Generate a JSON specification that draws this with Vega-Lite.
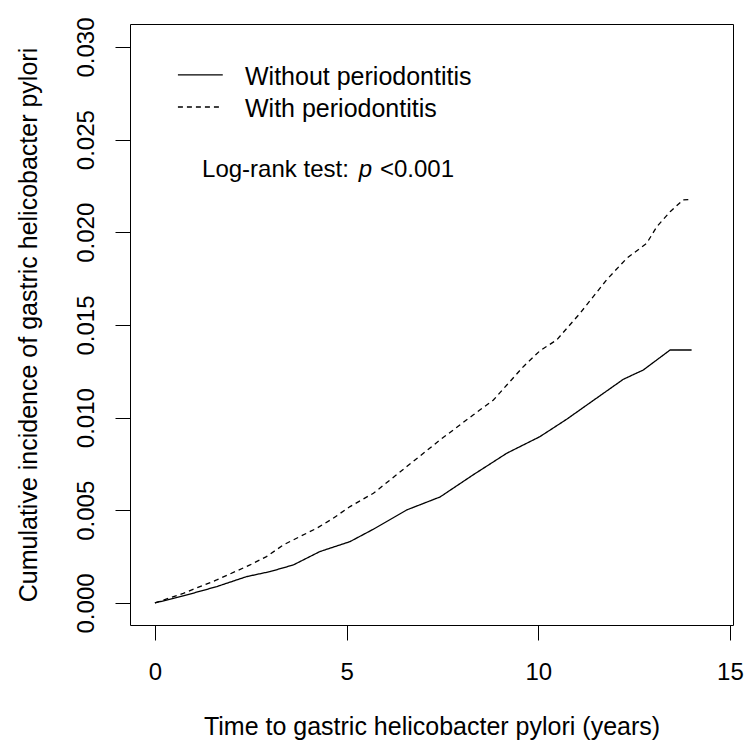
{
  "$schema": "https://vega.github.io/schema/vega-lite/v6.json",
  "autosize": {"type": "none"},
  "width": 603,
  "height": 601,
  "padding": {"left": 130, "top": 24, "right": 13, "bottom": 117},
  "background": "white",
  "config": {
    "view": {"stroke": "black", "strokeWidth": 1},
    "font": "Liberation Sans",
    "axis": {
      "domain": false, "grid": false,
      "tickColor": "black", "tickSize": 15, "tickWidth": 1,
      "labelFont": "Liberation Sans", "labelFontSize": 24, "labelColor": "black",
      "titleFont": "Liberation Sans", "titleFontSize": 25, "titleFontWeight": "normal", "titleColor": "black"
    }
  },
  "datasets": {
    "km": [
      {"group": "Without periodontitis", "t": 0, "v": 0},
      {"group": "Without periodontitis", "t": 0.74, "v": 0.00038},
      {"group": "Without periodontitis", "t": 1.61, "v": 0.00088},
      {"group": "Without periodontitis", "t": 2.39, "v": 0.00142},
      {"group": "Without periodontitis", "t": 3.0, "v": 0.00169},
      {"group": "Without periodontitis", "t": 3.61, "v": 0.00205},
      {"group": "Without periodontitis", "t": 4.3, "v": 0.00277},
      {"group": "Without periodontitis", "t": 5.09, "v": 0.00331},
      {"group": "Without periodontitis", "t": 5.7, "v": 0.00398},
      {"group": "Without periodontitis", "t": 6.57, "v": 0.00502},
      {"group": "Without periodontitis", "t": 7.44, "v": 0.00572},
      {"group": "Without periodontitis", "t": 8.3, "v": 0.00691},
      {"group": "Without periodontitis", "t": 9.18, "v": 0.00808},
      {"group": "Without periodontitis", "t": 10.04, "v": 0.00897},
      {"group": "Without periodontitis", "t": 10.74, "v": 0.00991},
      {"group": "Without periodontitis", "t": 11.52, "v": 0.01105},
      {"group": "Without periodontitis", "t": 12.22, "v": 0.01207},
      {"group": "Without periodontitis", "t": 12.74, "v": 0.01257},
      {"group": "Without periodontitis", "t": 13.09, "v": 0.01311},
      {"group": "Without periodontitis", "t": 13.44, "v": 0.01365},
      {"group": "Without periodontitis", "t": 14.0, "v": 0.01365},
      {"group": "With periodontitis", "t": 0, "v": 0},
      {"group": "With periodontitis", "t": 0.74, "v": 0.00052},
      {"group": "With periodontitis", "t": 1.61, "v": 0.00124},
      {"group": "With periodontitis", "t": 2.48, "v": 0.00205},
      {"group": "With periodontitis", "t": 2.91, "v": 0.0025},
      {"group": "With periodontitis", "t": 3.35, "v": 0.00313},
      {"group": "With periodontitis", "t": 3.78, "v": 0.00358},
      {"group": "With periodontitis", "t": 4.22, "v": 0.00403},
      {"group": "With periodontitis", "t": 4.65, "v": 0.00457},
      {"group": "With periodontitis", "t": 5.09, "v": 0.0052},
      {"group": "With periodontitis", "t": 5.7, "v": 0.00592},
      {"group": "With periodontitis", "t": 6.57, "v": 0.00736},
      {"group": "With periodontitis", "t": 7.44, "v": 0.0088},
      {"group": "With periodontitis", "t": 8.3, "v": 0.01014},
      {"group": "With periodontitis", "t": 8.83, "v": 0.01095},
      {"group": "With periodontitis", "t": 9.18, "v": 0.01176},
      {"group": "With periodontitis", "t": 9.61, "v": 0.01275},
      {"group": "With periodontitis", "t": 10.04, "v": 0.0136},
      {"group": "With periodontitis", "t": 10.48, "v": 0.01419},
      {"group": "With periodontitis", "t": 11.09, "v": 0.01563},
      {"group": "With periodontitis", "t": 11.78, "v": 0.01743},
      {"group": "With periodontitis", "t": 12.31, "v": 0.0186},
      {"group": "With periodontitis", "t": 12.83, "v": 0.01941},
      {"group": "With periodontitis", "t": 13.09, "v": 0.0203},
      {"group": "With periodontitis", "t": 13.44, "v": 0.02111},
      {"group": "With periodontitis", "t": 13.78, "v": 0.02175},
      {"group": "With periodontitis", "t": 14.0, "v": 0.02178}
    ]
  },
  "layer": [
    {
      "data": {"name": "km"},
      "mark": {"type": "line", "color": "black", "strokeWidth": 1.3},
      "encoding": {
        "x": {
          "field": "t", "type": "quantitative",
          "scale": {"domain": [-0.65, 15.08], "nice": false, "zero": false},
          "axis": {"values": [0, 5, 10, 15], "format": "d", "labelPadding": 20, "title": "Time to gastric helicobacter pylori (years)", "titlePadding": 30}
        },
        "y": {
          "field": "v", "type": "quantitative",
          "scale": {"domain": [-0.00119, 0.03124], "nice": false, "zero": false},
          "axis": {"values": [0, 0.005, 0.01, 0.015, 0.02, 0.025, 0.03], "format": ".3f", "labelAngle": 270, "labelAlign": "center", "labelBaseline": "alphabetic", "labelPadding": 22, "title": "Cumulative incidence of gastric helicobacter pylori", "titlePadding": 33}
        },
        "strokeDash": {
          "field": "group", "type": "nominal",
          "scale": {"domain": ["Without periodontitis", "With periodontitis"], "range": [[1, 0], [5, 4]]},
          "legend": null
        }
      }
    },
    {
      "data": {"values": [{}]},
      "mark": {"type": "rule", "color": "black", "strokeWidth": 1.3},
      "encoding": {
        "x": {"datum": 0.6, "type": "quantitative"},
        "x2": {"datum": 1.77},
        "y": {"datum": 0.02849, "type": "quantitative"}
      }
    },
    {
      "data": {"values": [{}]},
      "mark": {"type": "rule", "color": "black", "strokeWidth": 1.3, "strokeDash": [5, 4]},
      "encoding": {
        "x": {"datum": 0.6, "type": "quantitative"},
        "x2": {"datum": 1.77},
        "y": {"datum": 0.02676, "type": "quantitative"}
      }
    },
    {
      "data": {"values": [{}]},
      "mark": {"type": "text", "text": "Without periodontitis", "align": "left", "baseline": "middle", "font": "Liberation Sans", "fontSize": 25, "color": "black"},
      "encoding": {
        "x": {"datum": 2.35, "type": "quantitative"},
        "y": {"datum": 0.02839, "type": "quantitative"}
      }
    },
    {
      "data": {"values": [{}]},
      "mark": {"type": "text", "text": "With periodontitis", "align": "left", "baseline": "middle", "font": "Liberation Sans", "fontSize": 25, "color": "black"},
      "encoding": {
        "x": {"datum": 2.35, "type": "quantitative"},
        "y": {"datum": 0.02668, "type": "quantitative"}
      }
    },
    {
      "data": {"values": [{}]},
      "mark": {"type": "text", "text": "Log-rank test:", "align": "left", "baseline": "middle", "font": "Liberation Sans", "fontSize": 24, "color": "black"},
      "encoding": {
        "x": {"datum": 1.23, "type": "quantitative"},
        "y": {"datum": 0.02336, "type": "quantitative"}
      }
    },
    {
      "data": {"values": [{}]},
      "mark": {"type": "text", "text": "p", "align": "left", "baseline": "middle", "font": "Liberation Sans", "fontSize": 24, "fontStyle": "italic", "color": "black"},
      "encoding": {
        "x": {"datum": 5.32, "type": "quantitative"},
        "y": {"datum": 0.02336, "type": "quantitative"}
      }
    },
    {
      "data": {"values": [{}]},
      "mark": {"type": "text", "text": "<0.001", "align": "left", "baseline": "middle", "font": "Liberation Sans", "fontSize": 24, "color": "black"},
      "encoding": {
        "x": {"datum": 5.87, "type": "quantitative"},
        "y": {"datum": 0.02336, "type": "quantitative"}
      }
    }
  ]
}
